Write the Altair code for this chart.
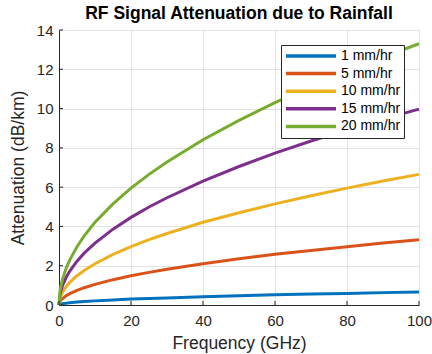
import altair as alt
import pandas as pd

freq = [0, 0.25, 0.5, 1, 2, 3, 5, 7, 10, 15, 20, 25, 30, 40, 50, 60, 70, 80, 90, 100]
att_1 = [0, 0.03, 0.05, 0.07, 0.09, 0.12, 0.15, 0.18, 0.21, 0.26, 0.30, 0.33, 0.36, 0.42, 0.47, 0.52, 0.56, 0.59, 0.63, 0.66]
att_5 = [0, 0.17, 0.24, 0.33, 0.47, 0.58, 0.74, 0.88, 1.05, 1.29, 1.49, 1.66, 1.82, 2.10, 2.35, 2.58, 2.78, 2.97, 3.16, 3.32]
att_10 = [0, 0.33, 0.47, 0.66, 0.94, 1.15, 1.49, 1.76, 2.10, 2.58, 2.97, 3.33, 3.64, 4.21, 4.70, 5.15, 5.56, 5.95, 6.31, 6.65]
att_15 = [0, 0.50, 0.70, 1.00, 1.41, 1.73, 2.23, 2.64, 3.15, 3.86, 4.46, 4.99, 5.46, 6.31, 7.05, 7.73, 8.35, 8.92, 9.46, 9.97]
att_20 = [0, 0.66, 0.94, 1.33, 1.88, 2.30, 2.97, 3.52, 4.21, 5.15, 5.95, 6.65, 7.28, 8.41, 9.40, 10.30, 11.13, 11.90, 12.62, 13.30]

series_names = ["1 mm/hr", "5 mm/hr", "10 mm/hr", "15 mm/hr", "20 mm/hr"]
series_colors = ["#0072BD", "#D95319", "#EDB120", "#7E2F8E", "#77AC30"]
x_ticks = [0, 20, 40, 60, 80, 100]
y_ticks = [0, 2, 4, 6, 8, 10, 12, 14]

rows = []
for name, vals in zip(series_names, [att_1, att_5, att_10, att_15, att_20]):
    for f, v in zip(freq, vals):
        rows.append({"freq": f, "att": v, "rate": name})
df = pd.DataFrame(rows)

FONT = "Liberation Sans"
INK = "#262626"

xscale = alt.Scale(domain=[0, 100], nice=False)
yscale = alt.Scale(domain=[0, 14], nice=False)
xaxis = alt.Axis(values=x_ticks, title="Frequency (GHz)", titlePadding=6,
                 titleFontSize=17.5, labelPadding=8.5, grid=True,
                 labelOverlap=False, labelFlush=False)
yaxis = alt.Axis(values=y_ticks, title="Attenuation (dB/km)", titlePadding=9,
                 titleFontSize=17.5, labelPadding=6, grid=True,
                 labelOverlap=False, labelFlush=False)

lines = alt.Chart(df).mark_line(strokeWidth=3).encode(
    x=alt.X("freq:Q", scale=xscale, axis=xaxis),
    y=alt.Y("att:Q", scale=yscale, axis=yaxis),
    color=alt.Color("rate:N", title=None,
                    scale=alt.Scale(domain=series_names, range=series_colors),
                    sort=series_names,
                    legend=alt.Legend(orient="none", legendX=222, legendY=15,
                                      fillColor="white", strokeColor=INK,
                                      padding=3, symbolType="stroke",
                                      symbolSize=2500, symbolStrokeWidth=3.5,
                                      labelFontSize=14, labelFont=FONT,
                                      labelColor="black", labelOffset=3,
                                      clipHeight=16, rowPadding=1.6)),
)

xt = alt.Chart(pd.DataFrame({"freq": x_ticks})).mark_rule(color=INK, strokeWidth=1).encode(
    x=alt.X("freq:Q", scale=xscale, axis=xaxis),
    y=alt.value(275), y2=alt.value(271),
)
yt = alt.Chart(pd.DataFrame({"att": y_ticks})).mark_rule(color=INK, strokeWidth=1).encode(
    y=alt.Y("att:Q", scale=yscale, axis=yaxis),
    x=alt.value(0), x2=alt.value(4),
)

chart = alt.layer(lines, xt, yt).properties(
    width=360, height=275,
    autosize=alt.AutoSizeParams(type="none"),
    padding={"left": 59, "top": 30, "right": 13, "bottom": 49},
    title=alt.TitleParams("RF Signal Attenuation due to Rainfall", font=FONT,
                          fontSize=17.5, fontWeight="bold", color="black",
                          anchor="middle", offset=0.5),
).configure_view(stroke=None).configure_axis(
    domainColor=INK, gridColor="#e2e2e2", tickSize=0,
    labelFont=FONT, labelFontSize=15, labelColor=INK,
    titleFont=FONT, titleFontWeight="normal", titleColor=INK,
)

chart.save("out.html", embed_options={"renderer": "svg", "actions": False})
